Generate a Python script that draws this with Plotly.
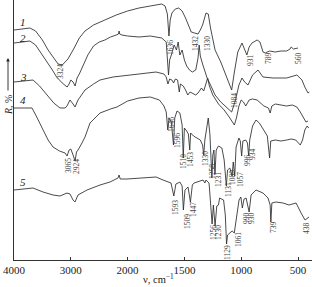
import plotly.graph_objects as go

# ---- data: wavenumber (cm^-1) and relative reflectance (offset units) ----
wn1 = [4000,3850,3720,3620,3500,3400,3300,3224,3150,3050,2950,2850,2750,2600,2400,2200,2000,1900,1800,1700,1670,1650,1636,1625,1610,1580,1550,1520,1490,1465,1440,1410,1380,1360,1340,1310,1290,1270,1230,1180,1130,1100,1084,1060,1030,993,970,950,930,905,860,835,808,789,750,700,650,600,570,560,540,500]
r1 = [30,29,28,31,40,50,58,64,65,59,49,38,31,25,20,15,11,8,6,4,6,14,36,20,13,9,8,11,18,26,32,33,34,30,25,13,14,28,50,62,76,85,90,72,52,43,50,55,47,43,40,42,52,53,51,52,51,51,49,47,49,48]

wn2 = [4000,3850,3720,3620,3500,3400,3324,3250,3150,3065,3030,3000,2960,2924,2890,2850,2800,2700,2600,2500,2400,2300,2200,2160,2150,2140,2100,2000,1900,1800,1700,1660,1640,1630,1615,1590,1570,1555,1540,1520,1500,1480,1455,1430,1400,1380,1370,1360,1340,1320,1300,1270,1230,1180,1120,1084,1050,1020,993,970,940,900,852,808,720,600,510,465,440,412,400]
r2 = [43,42,41,45,55,63,70,77,83,87,84,80,82,86,78,74,68,55,46,42,40,37,35,34,31,34,35,36,37,36,38,42,75,60,55,45,50,42,55,50,60,66,70,72,70,58,45,56,64,71,78,85,95,102,108,112,100,85,78,82,85,75,70,77,78,78,75,80,87,93,92]

wn3 = [4000,3800,3665,3550,3400,3300,3190,3100,3067,3014,2960,2926,2873,2750,2600,2486,2257,2010,1900,1750,1680,1660,1645,1630,1610,1595,1580,1560,1545,1535,1510,1490,1470,1450,1420,1400,1380,1350,1330,1310,1295,1280,1250,1200,1150,1100,1060,1040,1020,1000,980,960,930,900,860,800,760,745,730,700,600,550,510,480,450,430,412]
r3 = [82,81,80,86,96,103,108,108,106,100,104,107,100,90,84,80,77,75,74,72,74,77,84,79,80,83,79,80,92,84,86,90,95,92,94,95,93,88,91,82,78,86,95,104,110,118,125,117,106,100,102,106,100,99,100,106,108,113,106,104,106,105,107,112,118,122,121]

wn4 = [4000,3850,3683,3600,3489,3400,3313,3200,3100,3065,3030,3000,2960,2924,2900,2873,2803,2750,2662,2486,2300,2187,2000,1900,1800,1720,1680,1660,1646,1635,1615,1596,1585,1565,1540,1520,1510,1500,1480,1465,1453,1445,1420,1390,1360,1340,1330,1320,1300,1290,1275,1258,1250,1240,1231,1220,1200,1170,1150,1131,1120,1100,1080,1070,1057,1045,1020,1008,996,985,960,945,934,925,900,870,840,800,770,750,740,700,650,600,560,520,480,460,440,420,405]
r4 = [108,108,108,117,130,140,147,151,153,156,150,149,155,161,152,150,143,137,123,113,109,107,101,98,97,100,106,112,130,118,122,145,118,111,113,125,158,128,131,134,150,133,136,138,140,145,155,140,125,118,135,178,155,150,174,150,146,148,160,186,170,168,176,162,176,147,138,141,156,141,140,143,156,140,126,120,123,130,136,158,141,140,141,140,139,140,145,140,130,126,128]

wn5 = [4000,3665,3489,3313,3190,3067,3014,2961,2926,2873,2715,2486,2310,2169,2150,2130,2010,1891,1750,1688,1618,1593,1575,1556,1540,1520,1509,1495,1468,1447,1430,1415,1336,1320,1310,1283,1270,1256,1245,1230,1215,1200,1190,1155,1140,1129,1120,1100,1080,1061,1040,1019,1003,990,975,957,930,913,870,808,764,745,739,730,693,632,579,517,473,438,403]
r5 = [190,188,192,195,196,193,194,200,202,195,190,185,182,178,175,179,179,178,177,180,183,196,184,183,182,186,210,190,187,202,185,183,180,183,180,183,200,224,205,226,206,205,198,200,215,244,235,233,231,233,215,200,197,208,199,198,212,195,190,193,198,205,222,203,202,203,205,203,213,220,217]

band_labels = ["3324","1636","1432","1330","1084","931","789","560",
               "3065","2924","1646","1596","1510","1453","1330","1258","1231","1131","1080","1057","996","934",
               "1593","1509","1447","1256","1230","1129","1061","990","930","739","438"]

tick_vals_wn = [4000, 3000, 2000, 1500, 1000, 500]
curve_names = ["1", "2", "3", "4", "5"]

# ---- layout helpers ----
PX_PER_U = 56.8
def tx(v):
    return (4000 - v) / 1000.0 if v >= 2000 else 2 + (2000 - v) / 500.0

def u_from_px(px):
    return (px - 14) / PX_PER_U

# label positions in (pixel x, pixel y) of the picture
label_pos = [(60,72),(170,48),(195,44),(207,44),(234,101),(250,60),(268,58),(298,58),
             (68,166),(76,167),(171,125),(177,141),(183,162),(190,160),(205,159),(212,172),(218,180),(228,190),(232,178),(240,180),(247,160),(252,154),
             (175,208),(187,222),(193,210),(213,233),(218,233),(227,253),(238,240),(246,218),(251,218),(273,227),(306,228)]
curve_label_pos = [(23,22),(23,38),(23,77),(23,100),(23,182)]

fig = go.Figure()
for wn, r in [(wn1, r1), (wn2, r2), (wn3, r3), (wn4, r4), (wn5, r5)]:
    fig.add_trace(go.Scatter(x=[tx(v) for v in wn], y=[260 - p for p in r], mode="lines",
                             line=dict(color="#2a2a2a", width=0.85), hoverinfo="skip", showlegend=False))

ann = []
for t, (px, py) in zip(band_labels, label_pos):
    ann.append(dict(x=u_from_px(px), y=260 - py, xref="x", yref="y", text=t, showarrow=False,
                    textangle=-90, font=dict(family="Liberation Serif", size=7.5, color="#444"),
                    xanchor="center", yanchor="middle"))
for t, (px, py) in zip(curve_names, curve_label_pos):
    ann.append(dict(x=u_from_px(px), y=260 - py, xref="x", yref="y", text="<i>" + t + "</i>", showarrow=False,
                    font=dict(family="Liberation Serif", size=11, color="#222"),
                    xanchor="center", yanchor="middle"))
# axis titles
ann.append(dict(x=-6/298, y=(260-105)/260, xref="paper", yref="paper", text="<i>R</i>, %", showarrow=False,
                textangle=-90, font=dict(family="Liberation Serif", size=10, color="#222"),
                xanchor="center", yanchor="middle"))
ann.append(dict(x=-6/298, y=(260-58)/260, xref="paper", yref="paper", text="", showarrow=True,
                ax=0, ay=34, arrowhead=2, arrowsize=0.8, arrowwidth=0.9, arrowcolor="#222"))
ann.append(dict(x=(158-14)/298, y=-(287-260)/260, xref="paper", yref="paper", text="ν, cm<sup>−1</sup>",
                showarrow=False, font=dict(family="Liberation Serif", size=10.5, color="#222"),
                xanchor="center", yanchor="bottom"))

fig.update_layout(
    width=312, height=287, margin=dict(l=14, r=0, t=0, b=27),
    paper_bgcolor="white", plot_bgcolor="white",
    annotations=ann,
    xaxis=dict(range=[0, 298 / PX_PER_U], tickvals=[tx(v) for v in tick_vals_wn],
               ticktext=[str(v) for v in tick_vals_wn], ticks="inside", ticklen=3, tickcolor="#333",
               showline=True, linecolor="#333", linewidth=1, showgrid=False, zeroline=False,
               tickfont=dict(family="Liberation Serif", size=11, color="#222")),
    yaxis=dict(range=[0, 260], showticklabels=False, ticks="", showline=True, linecolor="#333",
               linewidth=1, showgrid=False, zeroline=False),
)
fig.write_html("out.html")
